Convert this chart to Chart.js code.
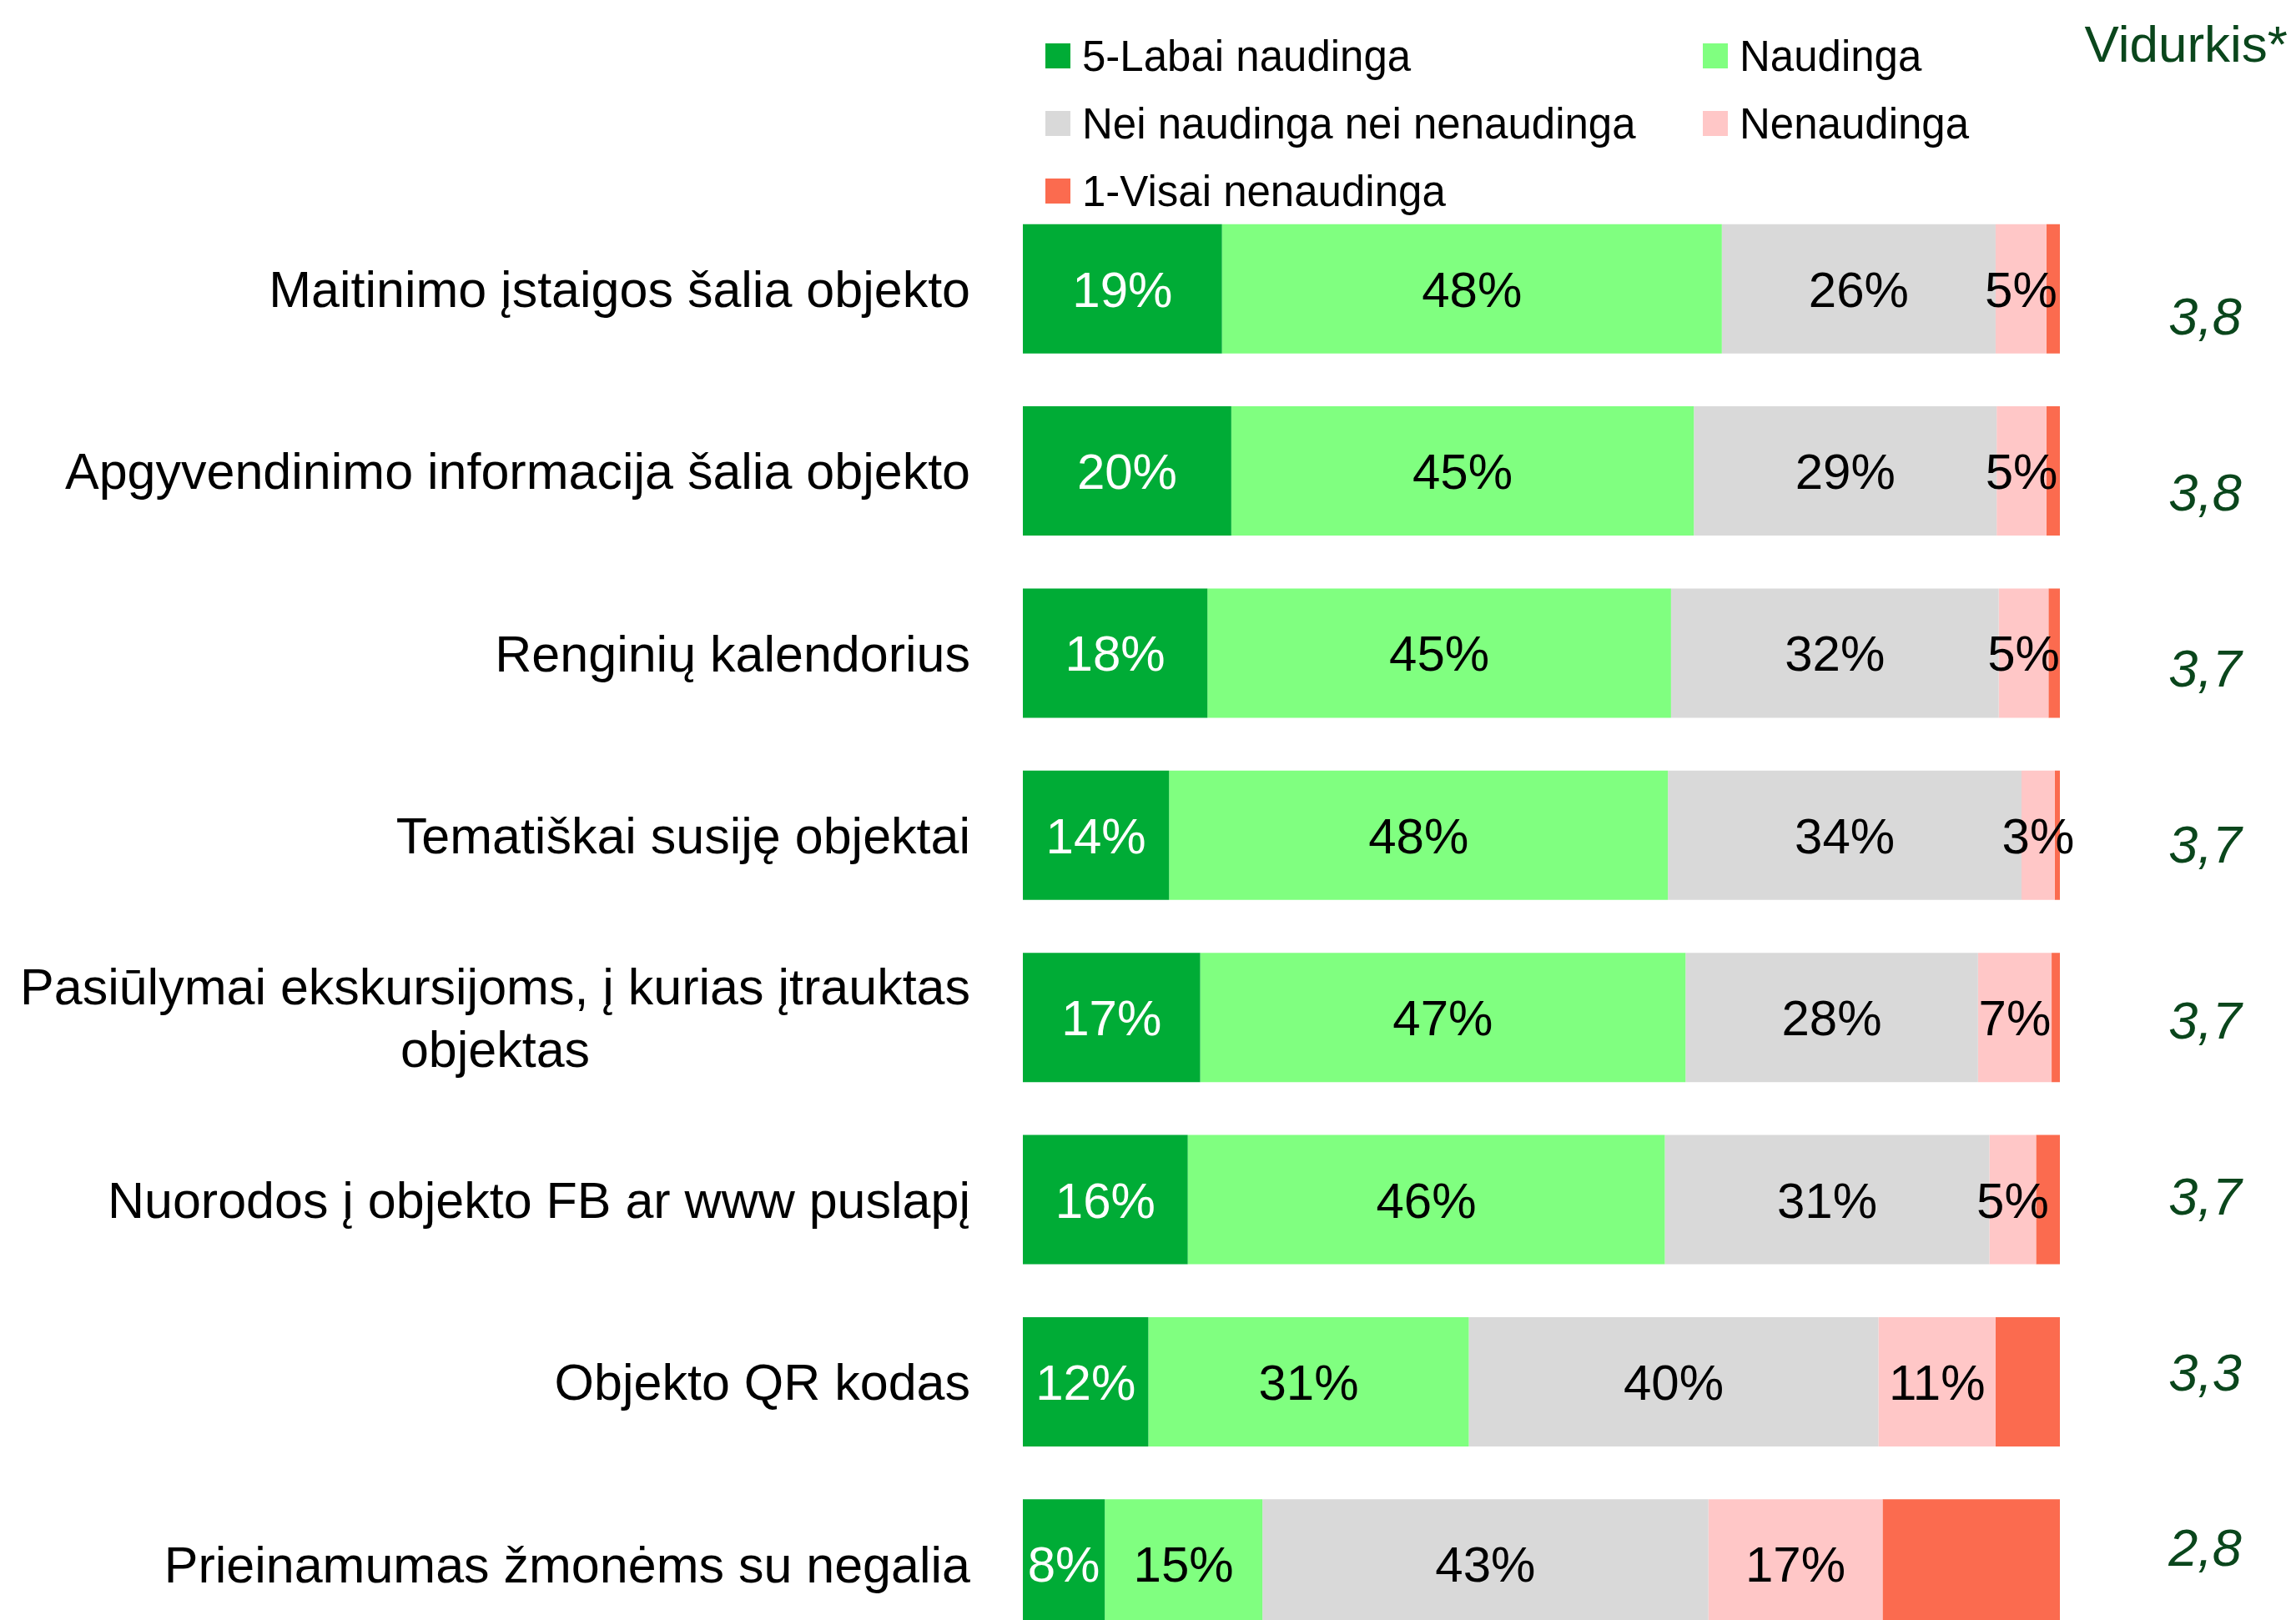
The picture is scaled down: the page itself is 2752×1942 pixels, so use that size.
<!DOCTYPE html>
<html lang="lt">
<head>
<meta charset="UTF-8">
<meta name="viewport" content="width=device-width, initial-scale=1.0">
<script src="https://cdn.jsdelivr.net/npm/chart.js@4.4.1/dist/chart.umd.min.js"></script>
<title>Naudingumas</title>
<style>
  html, body {
    margin: 0;
    padding: 0;
    background: #fff;
    overflow: hidden;
  }
  .chart-container {
    position: relative;
    width: 2752px;
    height: 1990px;
  }
</style>
</head>
<body>
<div class="chart-container">
  <canvas id="myChart"></canvas>
</div>
<script>
// categories, top to bottom
const categories = [
  'Maitinimo įstaigos šalia objekto',
  'Apgyvendinimo informacija šalia objekto',
  'Renginių kalendorius',
  'Tematiškai susiję objektai',
  ['Pasiūlymai ekskursijoms, į kurias įtrauktas', 'objektas'],
  'Nuorodos į objekto FB ar www puslapį',
  'Objekto QR kodas',
  'Prieinamumas žmonėms su negalia'
];

// shares in %
const labaiNaudinga = [19.2, 20.1, 17.8, 14.1, 17.1, 15.9, 12.1, 7.9];
const naudinga      = [48.2, 44.6, 44.7, 48.1, 46.8, 46.0, 30.9, 15.2];
const neiNei        = [26.4, 29.2, 31.6, 34.1, 28.2, 31.3, 39.5, 43.0];
const nenaudinga    = [4.9, 4.8, 4.8, 3.2, 7.1, 4.5, 11.3, 16.8];
const visaiNenaud   = [1.3, 1.3, 1.1, 0.5, 0.8, 2.3, 6.2, 17.1];

// "Vidurkis*" column
const averages = ['3,8', '3,8', '3,7', '3,7', '3,7', '3,7', '3,3', '2,8'];

const seriesNames = ['5-Labai naudinga', 'Naudinga', 'Nei naudinga nei nenaudinga', 'Nenaudinga', '1-Visai nenaudinga'];
const seriesColors = ['#00ac36', '#80ff80', '#d9d9d9', '#ffc7c7', '#fb6b4f'];

const FONT = "'Liberation Sans', Arial, Helvetica, sans-serif";
const DARK_GREEN = '#0a461c';

// category labels, % labels, averages and the legend are drawn by hand
const customDraw = {
  id: 'customDraw',
  afterDatasetsDraw(chart) {
    const ctx = chart.ctx;
    const area = chart.chartArea;
    const yScale = chart.scales.y;
    ctx.save();

    // category labels (multi-line ones are centred between themselves)
    ctx.font = '61px ' + FONT;
    ctx.fillStyle = '#000';
    ctx.textAlign = 'center';
    ctx.textBaseline = 'middle';
    categories.forEach((lab, i) => {
      const lines = Array.isArray(lab) ? lab : [lab];
      const w = Math.max(...lines.map(l => ctx.measureText(l).width));
      const cx = area.left - 63 - w / 2;
      const yc = yScale.getPixelForValue(i) + 5;
      lines.forEach((l, k) => {
        ctx.fillText(l, cx, yc + (k - (lines.length - 1) / 2) * 75);
      });
    });

    // percent labels inside segments (not on the last series)
    ctx.font = '60px ' + FONT;
    for (let d = 0; d < 4; d++) {
      const meta = chart.getDatasetMeta(d);
      ctx.fillStyle = d === 0 ? '#fff' : '#000';
      meta.data.forEach((bar, i) => {
        const p = bar.getCenterPoint();
        const v = chart.data.datasets[d].data[i];
        ctx.fillText(Math.round(v) + '%', p.x, p.y + 5);
      });
    }

    // averages: the column runs a bit tighter than the bars
    ctx.fillStyle = DARK_GREEN;
    ctx.font = 'italic 63px ' + FONT;
    averages.forEach((a, i) => {
      ctx.fillText(a, area.right + 174, yScale.getPixelForValue(0.172 + i * 0.9657));
    });

    ctx.font = '62px ' + FONT;
    ctx.textAlign = 'right';
    ctx.textBaseline = 'alphabetic';
    ctx.fillText('Vidurkis*', 2742, 74);

    // legend, two columns
    ctx.font = '51px ' + FONT;
    ctx.textAlign = 'left';
    ctx.textBaseline = 'middle';
    chart.data.datasets.forEach((ds, k) => {
      const col = k % 2, row = Math.floor(k / 2);
      const bx = area.left + 27 + col * 788;
      const by = 67 + row * 81;
      ctx.fillStyle = ds.backgroundColor;
      ctx.fillRect(bx, by - 15, 30, 30);
      ctx.fillStyle = '#000';
      ctx.fillText(ds.label, bx + 44, by + 4);
    });

    ctx.restore();
  }
};

const seriesData = [labaiNaudinga, naudinga, neiNei, nenaudinga, visaiNenaud];

const config = {
  type: 'bar',
  data: {
    labels: categories,
    datasets: seriesData.map((arr, k) => ({
      label: seriesNames[k],
      data: arr,
      backgroundColor: seriesColors[k],
      borderWidth: 0,
      categoryPercentage: 1,
      barPercentage: 0.71
    }))
  },
  options: {
    indexAxis: 'y',
    responsive: true,
    maintainAspectRatio: false,
    animation: false,
    layout: {
      padding: { left: 1226, right: 283, top: 237, bottom: 6 }
    },
    scales: {
      x: {
        stacked: true,
        min: 0,
        max: 100,
        display: false
      },
      y: {
        stacked: true,
        display: false
      }
    },
    plugins: {
      legend: { display: false },
      tooltip: { enabled: false }
    }
  },
  plugins: [customDraw]
};

window.onload = function() {
  const ctx = document.getElementById('myChart').getContext('2d');
  window.myChart = new Chart(ctx, config);
};
</script>
</body>
</html>
